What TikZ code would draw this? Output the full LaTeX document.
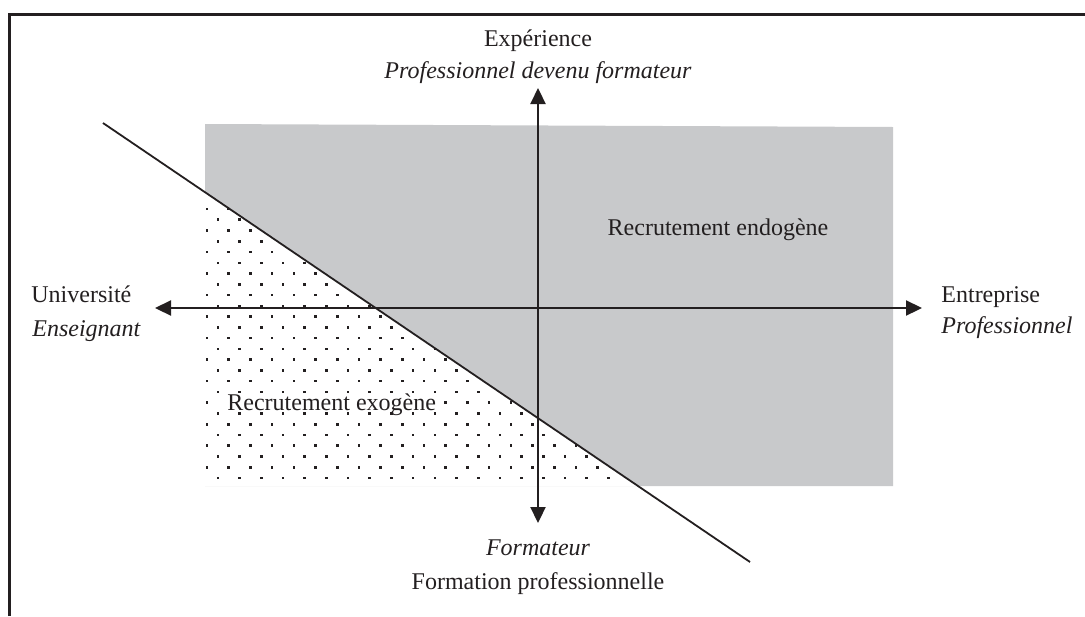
\documentclass[tikz,border=0pt]{standalone}
\usepackage{fontspec}
\setmainfont{Liberation Serif}
\usetikzlibrary{arrows.meta}
\definecolor{gris}{RGB}{200,201,203}
\definecolor{encre}{RGB}{35,31,32}

\begin{document}
\begin{tikzpicture}[x=0.5pt, y=-0.5pt,
		cadre/.style={draw=encre, line width=1.5pt},
		axe/.style={draw=encre, line width=1.1pt, {Triangle[length=8pt, width=7.5pt]}-{Triangle[length=8pt, width=7.5pt]}},
		diagonale/.style={draw=encre, line width=0.9pt},
		etiq/.style={text=encre, font=\fontsize{12}{16}\selectfont, inner sep=0pt},
		zone/.style={etiq, fill=white, inner xsep=2pt, inner ysep=0pt, text height=7pt, text depth=0pt}
		]
		\useasboundingbox (0,0) rectangle (1085,616);
		
		% ---- CADRE ----
		\draw[cadre] (9,616) |- (1085,14);
		
		% ---- ZONES ----
		\fill[gris] (205,124) -- (893,127) -- (893,486) -- (205,486) -- cycle;
		\fill[white] (205,192) -- (638,486) -- (205,486) -- cycle;
		\begin{scope}
			\clip (205,192) -- (638,486) -- (205,486) -- cycle;
			\foreach \r in {0,...,25}
				\foreach \c in {0,...,20}
					\fill[encre] ({207+21.7*\c+10.85*mod(\r,2)-1.3}, {209+10.76*\r-1.3}) rectangle ++(2.6,2.6);
		\end{scope}
		
		% ---- POINTS ----
		\coordinate (hautgauche) at (103,123);
		\coordinate (basdroite) at (750,562);
		\coordinate (ouest) at (155,308);
		\coordinate (est) at (922,308);
		\coordinate (nord) at (538,88);
		\coordinate (sud) at (538,523);
		
		% ---- AXES ----
		\draw[diagonale] (hautgauche) -- (basdroite);
		\draw[axe] (ouest) -- (est);
		\draw[axe] (sud) -- (nord);
		
		% ---- ETIQUETTES ----
		\node[etiq, anchor=base] (exp) at (538,46) {Expérience};
		\node[etiq, anchor=base] (expit) at (538,78) {\itshape Professionnel devenu formateur};
		\node[etiq, anchor=base west] (univ) at (31,302) {Université};
		\node[etiq, anchor=base west] (univit) at (32,336) {\itshape Enseignant};
		\node[etiq, anchor=base west] (entr) at (941,302) {Entreprise};
		\node[etiq, anchor=base west] (entrit) at (941,333) {\itshape Professionnel};
		\node[etiq, anchor=base] (formit) at (538,555) {\itshape Formateur};
		\node[etiq, anchor=base] (form) at (538,589) {Formation professionnelle};
		\node[etiq, anchor=base] (endo) at (718,235) {Recrutement endogène};
		\node[zone, anchor=base west] (exo) at (223,410) {Recrutement exogène};
		
	\end{tikzpicture}
\end{document}
